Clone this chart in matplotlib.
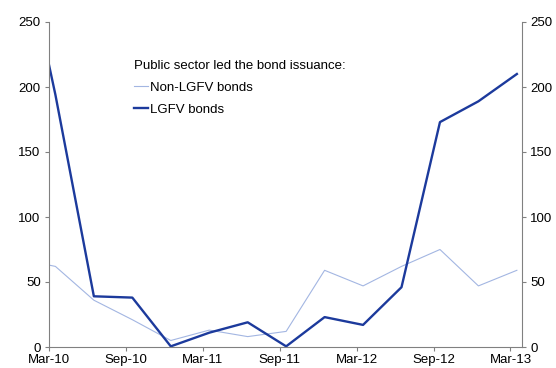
import matplotlib
matplotlib.use("Agg")
import matplotlib.pyplot as plt

plt.rcParams['font.family'] = ['Liberation Sans', 'DejaVu Sans']

# months since Mar-10 (quarterly observations)
months = [0, 0.5, 3.5, 6.5, 9.5, 12.5, 15.5, 18.5, 21.5, 24.5, 27.5, 30.5, 33.5, 36.5]
lgfv = [217, 194, 39, 38, 0.5, 11, 19, 0.5, 23, 17, 46, 173, 189, 210]
non_lgfv = [63, 62, 36, 21, 5, 13, 8, 12, 59, 47, 62, 75, 47, 59]

tick_pos = [0, 6, 12, 18, 24, 30, 36]
tick_labels = ['Mar-10', 'Sep-10', 'Mar-11', 'Sep-11', 'Mar-12', 'Sep-12', 'Mar-13']
y_ticks = [0, 50, 100, 150, 200, 250]

grey = '#808080'
fs = 9.5

fig = plt.figure(figsize=(5.56, 3.68), dpi=100)
ax = fig.add_axes([49/556, 1 - 347/368, (522 - 49)/556, (347 - 22)/368])

ax.plot(months, non_lgfv, color='#a3b6e2', lw=0.8, label='Non-LGFV bonds')
ax.plot(months, lgfv, color='#1c3a9c', lw=1.7, label='LGFV bonds')

ax.set_xlim(0, 36.9)
ax.set_ylim(0, 250)
ax.set_xticks(tick_pos)
ax.set_xticklabels(tick_labels)
ax.set_yticks(y_ticks)

for s in ['left', 'right', 'bottom']:
    ax.spines[s].set_color(grey)
    ax.spines[s].set_linewidth(0.8)
ax.spines['top'].set_visible(False)

ax.tick_params(axis='both', colors=grey, labelcolor='black', labelsize=fs,
               length=3, width=0.8, direction='out')
ax.tick_params(axis='y', left=True, right=True, labelleft=True, labelright=True, pad=3)
ax.tick_params(axis='x', pad=2)

leg = ax.legend(title='Public sector led the bond issuance:', loc='upper left',
                bbox_to_anchor=(0.168, 0.9), frameon=False, fontsize=fs,
                title_fontsize=fs, handlelength=1.1, handletextpad=0.1,
                labelspacing=0.75, alignment='left', borderaxespad=0)

fig.savefig('out.png', dpi=100)
